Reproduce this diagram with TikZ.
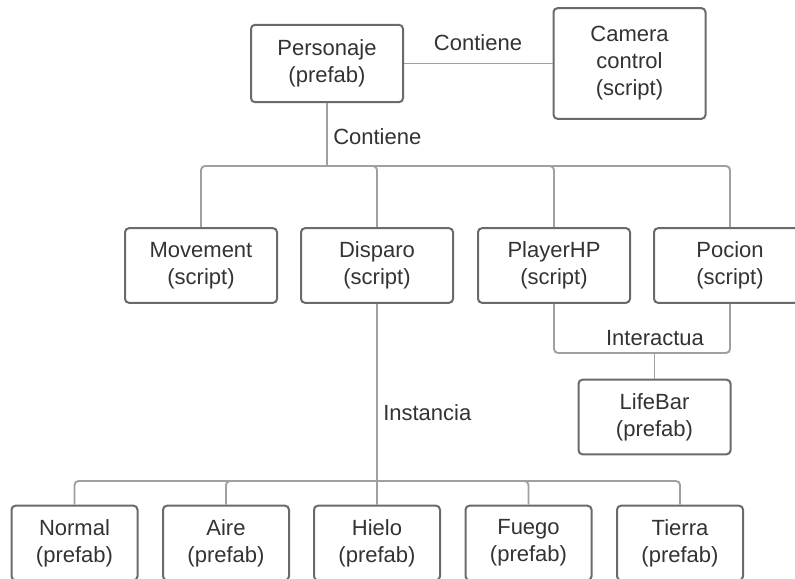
\documentclass[tikz,border=0pt]{standalone}
\usepackage{fontspec}
\setmainfont{Liberation Sans}
\definecolor{boxgray}{HTML}{6A6A6A}
\definecolor{linegray}{HTML}{A0A0A0}
\definecolor{txtgray}{HTML}{333333}
\tikzset{
  blk/.style={draw=boxgray, line width=1.5pt, rounded corners=3pt, align=center,
    text=txtgray, inner sep=0pt, minimum width=114pt, minimum height=56pt,
    font=\fontsize{16.5}{20.25}\selectfont},
  small/.style={blk, minimum width=94.5pt},
  conn/.style={draw=linegray, line width=1.4pt, rounded corners=3pt},
  lbl/.style={text=txtgray, inner sep=0pt, font=\fontsize{16.5}{20.25}\selectfont}
}
\begin{document}
\begin{tikzpicture}[x=0.75pt,y=-0.75pt]
  \useasboundingbox[fill=white] (0,0) rectangle (795,578);

  \node at (327,63.5) [blk, minimum height=58pt] (pers) {Personaje\\(prefab)};
  \node at (629.5,63.5) [blk, minimum height=83pt] (cam) {Camera\\control\\(script)};

  \node at (201,265.5) [blk] (mov) {Movement\\(script)};
  \node at (377,265.5) [blk] (disp) {Disparo\\(script)};
  \node at (554,265.5) [blk] (php) {PlayerHP\\(script)};
  \node at (730,265.5) [blk] (poc) {Pocion\\(script)};

  \node at (654.5,417) [blk] (lb) {LifeBar\\(prefab)};

  \node at (74.5,543) [small] (nor) {Normal\\(prefab)};
  \node at (226,543) [small] (air) {Aire\\(prefab)};
  \node at (377,543) [small] (hie) {Hielo\\(prefab)};
  \node at (528.5,543) [small] (fue) {Fuego\\(prefab)};
  \node at (680,543) [small] (tie) {Tierra\\(prefab)};

  \coordinate (j1) at (327,166);
  \coordinate (j2) at (654.5,353);
  \coordinate (j3) at (377,481);

  \draw[conn] (pers) -- (cam);
  \draw[conn] (pers) -- (j1);
  \foreach \n in {mov,disp,php,poc}
    \draw[conn] (j1) -| (\n);
  \draw[conn] (php) |- (j2) -| (poc);
  \draw[conn] (j2) -- (lb);
  \draw[conn] (disp) -- (j3);
  \foreach \n in {nor,air,hie,fue,tie}
    \draw[conn] (j3) -| (\n);

  \node at (478,43) [lbl] (l1) {Contiene};
  \node at (333,137) [lbl, anchor=west] (l2) {Contiene};
  \node at (655,338) [lbl] (l3) {Interactua};
  \node at (383,413) [lbl, anchor=west] (l4) {Instancia};
\end{tikzpicture}
\end{document}
